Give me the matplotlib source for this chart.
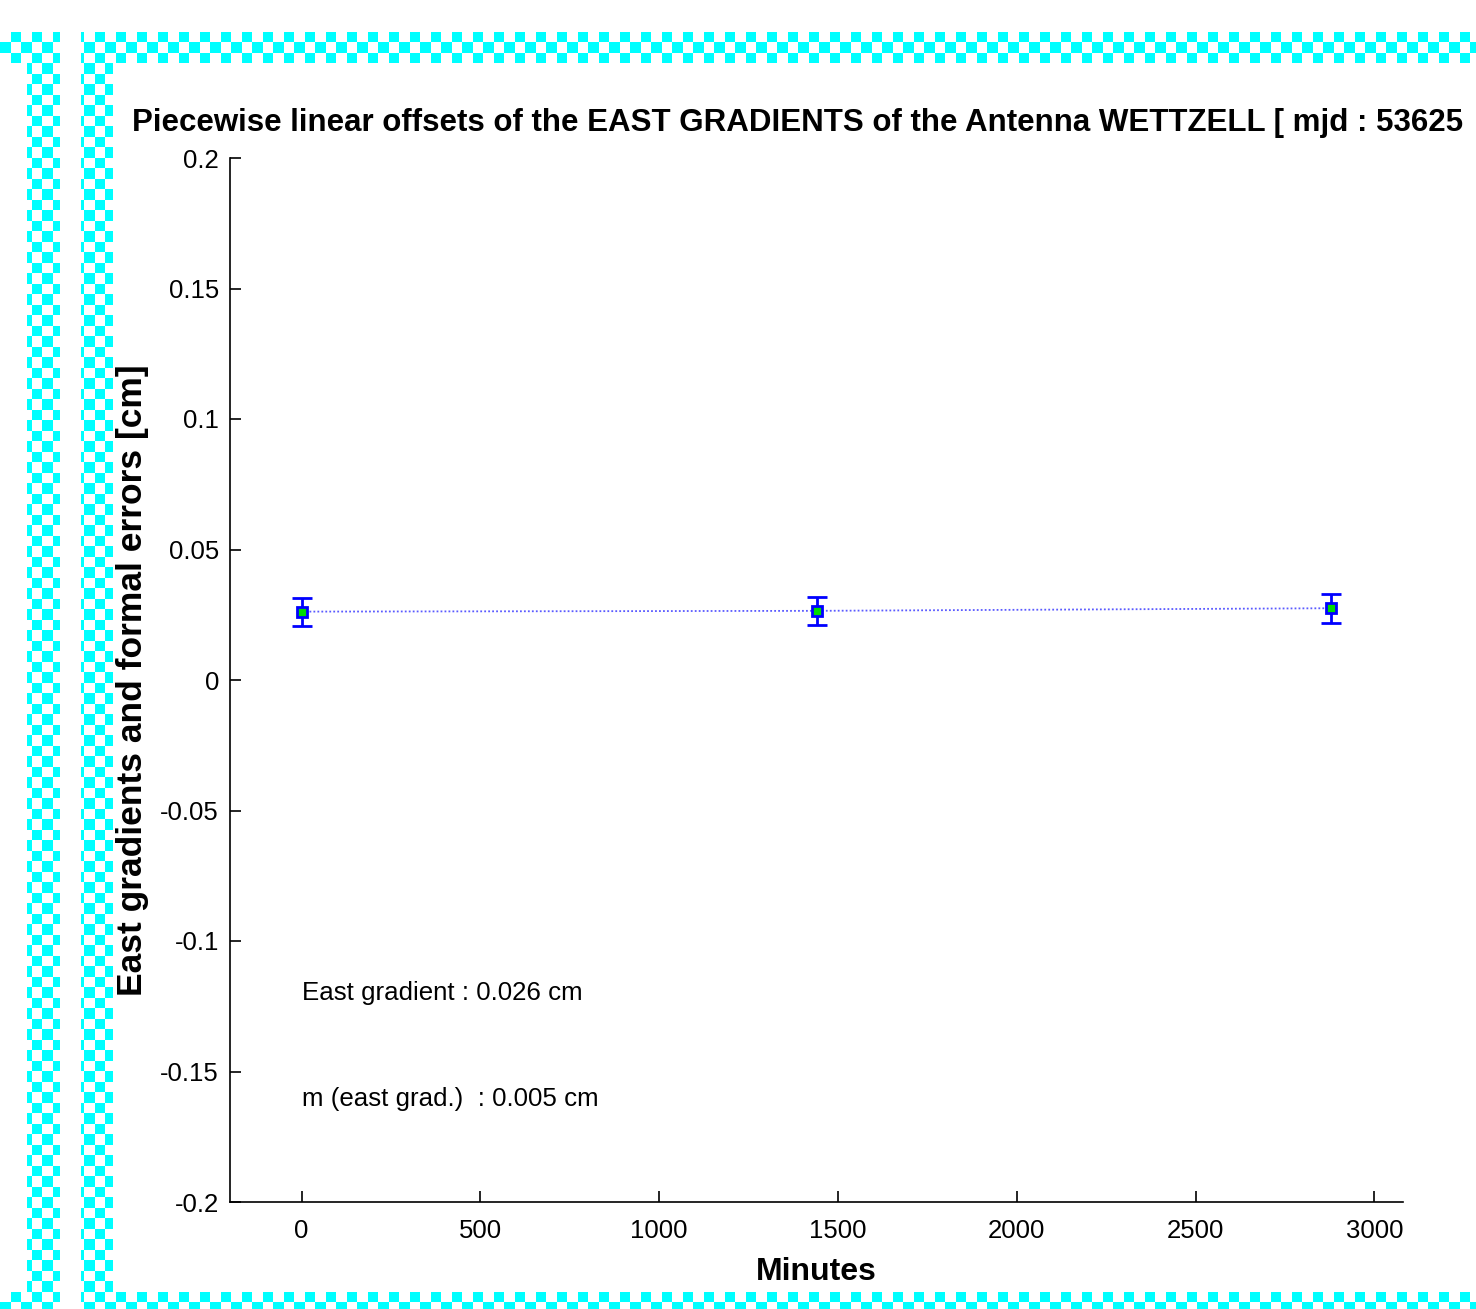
import numpy as np
import matplotlib
matplotlib.use('Agg')
import matplotlib.pyplot as plt

plt.rcParams['font.family'] = ['Liberation Sans', 'DejaVu Sans']

# Piecewise linear east gradient offsets (minutes since start, cm)
minutes = [0, 1440, 2880]
east_grad = [0.0262, 0.0265, 0.0275]
formal_err = [0.0054, 0.0054, 0.0055]

y_ticks = [-0.2, -0.15, -0.1, -0.05, 0, 0.05, 0.1, 0.15, 0.2]
y_tick_labels = ['-0.2', '-0.15', '-0.1', '-0.05', '0', '0.05', '0.1', '0.15', '0.2']
x_ticks = [0, 500, 1000, 1500, 2000, 2500, 3000]

W, H = 1476, 1309
fig = plt.figure(figsize=(W / 100, H / 100), dpi=100)

# cyan checkered frame strips around the plot
bg = fig.add_axes([0, 0, 1, 1], zorder=0)
bg.set_axis_off()
yy, xx = np.mgrid[0:H, 0:W]
cell = 10.5
checker = ((np.floor(xx / cell) + np.floor(yy / cell)) % 2) == 0
band = np.zeros((H, W), dtype=bool)
band[32:63, 0:60] = True
band[32:63, 81:] = True
band[1292:, 0:60] = True
band[1292:, 81:] = True
band[32:, 27:60] = True
band[32:, 81:113] = True
rgba = np.ones((H, W, 4))
rgba[..., 3] = 0
mask = band & checker
rgba[mask] = [0, 1, 1, 1]
bg.imshow(rgba, extent=[0, W, H, 0], interpolation='nearest', aspect='auto')
bg.set_xlim(0, W)
bg.set_ylim(H, 0)

ax = fig.add_axes([230 / W, 1 - 1202 / H, (1403 - 230) / W, (1202 - 158) / H], zorder=1)
ax.patch.set_alpha(0)

ax.plot(minutes, east_grad, linestyle=(0, (1, 1.2)), color='#5a5aff', lw=1.3, zorder=2)
ax.errorbar(minutes, east_grad, yerr=formal_err, fmt='s', color='blue',
            mfc='#00dd00', mec='blue', ms=7, mew=2, ecolor='blue',
            elinewidth=2, capsize=7, capthick=2, zorder=3)

ax.set_xlim(-200, 3080)
ax.set_ylim(-0.2, 0.2)
ax.set_xticks(x_ticks)
ax.set_xticklabels([str(t) for t in x_ticks])
ax.set_yticks(y_ticks)
ax.set_yticklabels(y_tick_labels)
ax.tick_params(direction='in', length=8, width=1.2, labelsize=18.5)
ax.tick_params(axis='x', pad=12)
ax.tick_params(axis='y', pad=8)

for side in ['top', 'right']:
    ax.spines[side].set_visible(False)
for side in ['left', 'bottom']:
    ax.spines[side].set_linewidth(1.2)

ax.set_xlabel('Minutes', fontsize=23, fontweight='bold', labelpad=10)
ax.set_ylabel('East gradients and formal errors [cm]', fontsize=25.5, fontweight='bold', labelpad=8)

ax.text(0, -0.12, 'East gradient : 0.026 cm', fontsize=18.6, va='center', ha='left')
ax.text(0, -0.1605, 'm (east grad.)  : 0.005 cm', fontsize=18.6, va='center', ha='left')

fig.text(132 / W, 1 - 123 / H,
         'Piecewise linear offsets of the EAST GRADIENTS of the Antenna WETTZELL [ mjd : 53625',
         fontsize=22.5, fontweight='bold', va='center', ha='left')

fig.savefig('out.png', dpi=100)
